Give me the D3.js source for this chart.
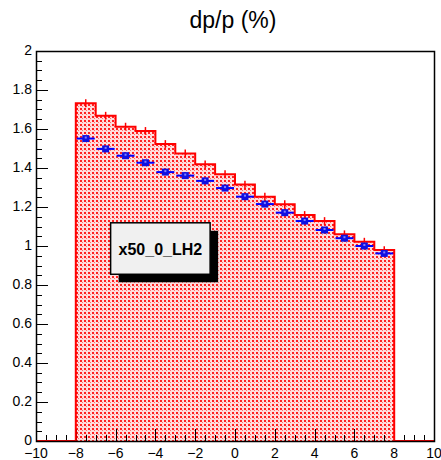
<!DOCTYPE html>
<html>
<head>
<meta charset="UTF-8">
<script src="https://d3js.org/d3.v7.min.js"></script>
<style>
  body { margin: 0; background: #fff; }
  text { font-family: "Liberation Sans", Arial, sans-serif; }
</style>
</head>
<body>
<svg id="chart"></svg>
<script>
// bin edges -8..8, width 1
const binLow = [-8, -7, -6, -5, -4, -3, -2, -1, 0, 1, 2, 3, 4, 5, 6, 7];
const histVals = [1.732, 1.668, 1.612, 1.590, 1.523, 1.475, 1.419, 1.368,
                  1.315, 1.253, 1.214, 1.159, 1.128, 1.060, 1.022, 0.979];
const histErr = [0.02, 0.02, 0.02, 0.02, 0.02, 0.02, 0.02, 0.02,
                 0.02, 0.02, 0.02, 0.02, 0.02, 0.02, 0.02, 0.02];
const markVals = [1.551, 1.498, 1.463, 1.427, 1.379, 1.361, 1.334, 1.297,
                  1.253, 1.215, 1.171, 1.128, 1.082, 1.040, 1.000, 0.962];
const markErr = [0.015, 0.015, 0.015, 0.015, 0.015, 0.015, 0.015, 0.015,
                 0.015, 0.015, 0.015, 0.015, 0.015, 0.015, 0.015, 0.015];
const xTicks = [-10, -8, -6, -4, -2, 0, 2, 4, 6, 8, 10];
const yTicks = [0, 0.2, 0.4, 0.6, 0.8, 1, 1.2, 1.4, 1.6, 1.8, 2];
const title = "dp/p (%)";
const legendText = "x50_0_LH2";

const width = 441, height = 460;
const margin = { top: 51, right: 7, bottom: 19, left: 36 };

const svg = d3.select("#chart").attr("width", width).attr("height", height);

const x = d3.scaleLinear().domain([-10, 10]).range([margin.left, width - margin.right]);
const y = d3.scaleLinear().domain([0, 2]).range([height - margin.bottom, margin.top]);

// dotted fill pattern
const defs = svg.append("defs");
const pat = defs.append("pattern").attr("id", "dots")
  .attr("patternUnits", "userSpaceOnUse").attr("width", 4).attr("height", 4);
pat.append("rect").attr("width", 4).attr("height", 4).attr("fill", "#ffdcdc");
pat.append("rect").attr("x", 0).attr("y", 0).attr("width", 2).attr("height", 2).attr("fill", "#ff2020");
pat.append("rect").attr("x", 2).attr("y", 2).attr("width", 1).attr("height", 1).attr("fill", "#ff7070");

// histogram fill
const area = binLow.map((b, i) => [[b, histVals[i]], [b + 1, histVals[i]]]).flat();
const fillPath = [[binLow[0], 0], ...area, [binLow[binLow.length - 1] + 1, 0]];
svg.append("path")
  .attr("d", d3.line().x(d => x(d[0])).y(d => y(d[1]))(fillPath) + "Z")
  .attr("fill", "url(#dots)");

// axis ticks (drawn inside the frame)
const axes = svg.append("g").attr("stroke", "#000").attr("stroke-width", 1);
d3.range(0, 2.0001, 0.05).forEach(v => {
  const major = Math.abs(v / 0.2 - Math.round(v / 0.2)) < 1e-6;
  axes.append("line")
    .attr("x1", x(-10)).attr("x2", x(-10) + (major ? 12 : 6))
    .attr("y1", Math.round(y(v)) + 0.5).attr("y2", Math.round(y(v)) + 0.5);
});
d3.range(-10, 10.0001, 0.5).forEach(v => {
  const major = Math.abs(v / 2 - Math.round(v / 2)) < 1e-6;
  axes.append("line")
    .attr("x1", Math.round(x(v)) + 0.5).attr("x2", Math.round(x(v)) + 0.5)
    .attr("y1", y(0)).attr("y2", y(0) - (major ? 12 : 6));
});

// histogram outline
const outline = [[-10, 0], [binLow[0], 0], ...area,
  [binLow[binLow.length - 1] + 1, 0], [10, 0]];
svg.append("path")
  .attr("d", d3.line().x(d => x(d[0])).y(d => y(d[1]))(outline))
  .attr("fill", "none").attr("stroke", "#ff0000").attr("stroke-width", 2);

// histogram error bars
svg.append("g").selectAll("line").data(binLow).join("line")
  .attr("x1", d => x(d + 0.5)).attr("x2", d => x(d + 0.5))
  .attr("y1", (d, i) => y(histVals[i] - histErr[i]))
  .attr("y2", (d, i) => y(histVals[i] + histErr[i]))
  .attr("stroke", "#ff0000").attr("stroke-width", 1.5);

// markers with error bars
const mk = svg.append("g");
binLow.forEach((b, i) => {
  const cx = x(b + 0.5), cy = y(markVals[i]);
  mk.append("line").attr("x1", x(b + 0.05)).attr("x2", x(b + 0.95))
    .attr("y1", cy).attr("y2", cy).attr("stroke", "#0000ff").attr("stroke-width", 2);
  mk.append("line").attr("x1", cx).attr("x2", cx)
    .attr("y1", y(markVals[i] - markErr[i])).attr("y2", y(markVals[i] + markErr[i]))
    .attr("stroke", "#0000ff").attr("stroke-width", 2);
  mk.append("rect").attr("x", cx - 3.5).attr("y", cy - 3.5)
    .attr("width", 7).attr("height", 7).attr("fill", "#1010e0");
  mk.append("rect").attr("x", cx - 1).attr("y", cy - 2)
    .attr("width", 2).attr("height", 2).attr("fill", "#8080ff");
});

// frame
svg.append("rect")
  .attr("x", x(-10) + 0.5).attr("y", y(2) + 0.5)
  .attr("width", x(10) - x(-10)).attr("height", y(0) - y(2))
  .attr("fill", "none").attr("stroke", "#000").attr("stroke-width", 1.5);

// tick labels
svg.append("g").selectAll("text").data(yTicks).join("text")
  .attr("x", x(-10) - 4).attr("y", d => y(d) + 4)
  .attr("text-anchor", "end").attr("font-size", 14).attr("fill", "#000")
  .text(d => d3.format("")(d));
svg.append("g").selectAll("text").data(xTicks).join("text")
  .attr("x", d => x(d)).attr("y", y(0) + 17)
  .attr("text-anchor", "middle").attr("font-size", 14).attr("fill", "#000")
  .text(d => d < 0 ? "\u2212" + Math.abs(d) : d);

// title
svg.append("text").attr("x", 233).attr("y", 28)
  .attr("text-anchor", "middle").attr("font-size", 23).attr("fill", "#000")
  .text(title);

// legend box
const lx0 = x(-6.25), lx1 = x(-1.25), ly0 = y(1.119), ly1 = y(0.855);
svg.append("rect").attr("x", lx0 + 8).attr("y", ly0 + 8)
  .attr("width", lx1 - lx0).attr("height", ly1 - ly0).attr("fill", "#000");
svg.append("rect").attr("x", lx0).attr("y", ly0)
  .attr("width", lx1 - lx0).attr("height", ly1 - ly0)
  .attr("fill", "#f0f0f0").attr("stroke", "#000").attr("stroke-width", 1.5);
svg.append("text").attr("x", (lx0 + lx1) / 2).attr("y", (ly0 + ly1) / 2 + 6)
  .attr("text-anchor", "middle").attr("font-size", 16).attr("font-weight", "bold")
  .attr("fill", "#000").text(legendText);
</script>
</body>
</html>
